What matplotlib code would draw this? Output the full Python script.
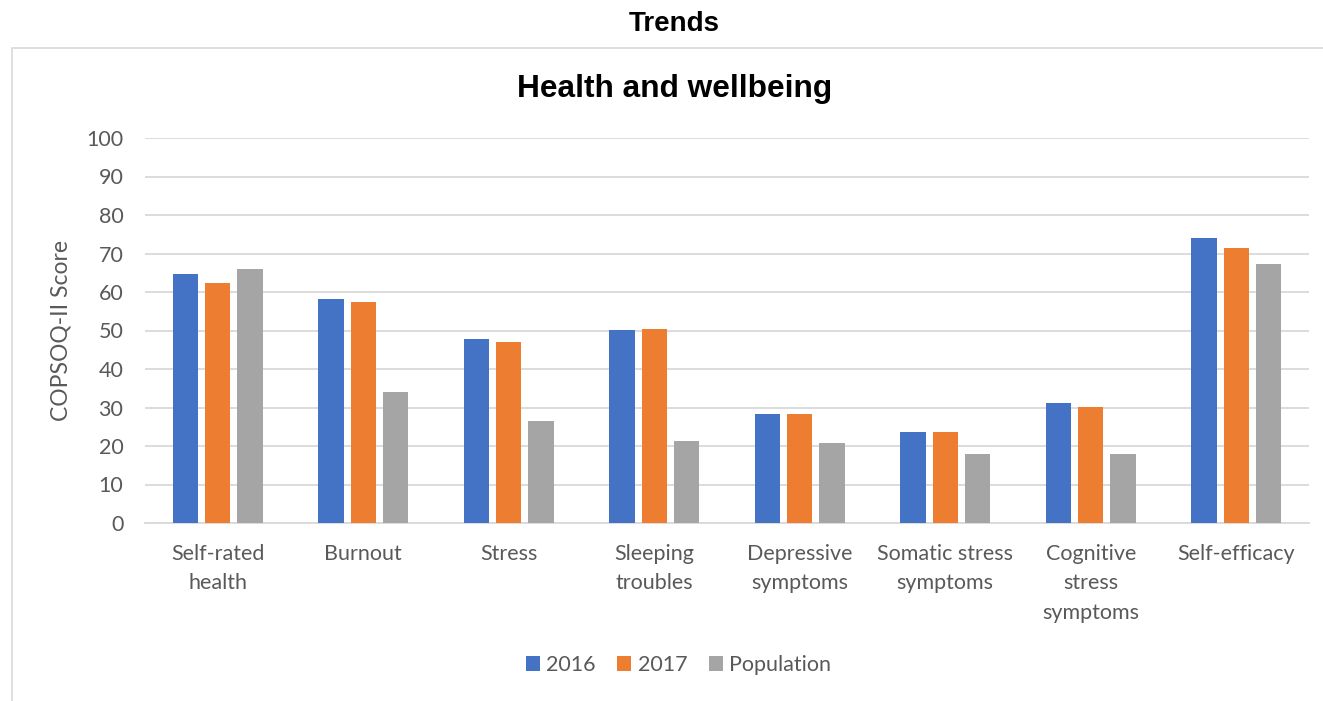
import numpy as np
import matplotlib
matplotlib.use('Agg')
import matplotlib.pyplot as plt
from matplotlib.patches import Rectangle

categories = ['Self-rated\nhealth', 'Burnout', 'Stress', 'Sleeping\ntroubles',
              'Depressive\nsymptoms', 'Somatic stress\nsymptoms',
              'Cognitive\nstress\nsymptoms', 'Self-efficacy']
vals_2016 = [64.6, 58.1, 47.7, 50.2, 28.4, 23.7, 31.1, 73.9]
vals_2017 = [62.4, 57.4, 47.0, 50.4, 28.4, 23.7, 30.2, 71.4]
vals_pop = [65.9, 34.1, 26.6, 21.3, 20.9, 17.8, 17.8, 67.4]
series_names = ['2016', '2017', 'Population']
colors = ['#4472C4', '#ED7D31', '#A5A5A5']

txt_font = ['Lato', 'DejaVu Sans']
grey_txt = '#595959'

fig = plt.figure(figsize=(13.23, 7.01), dpi=100)
fig.set_facecolor('white')
ax = fig.add_axes([145 / 1323, 1 - 523 / 701, 1164 / 1323, 385 / 701])

# chart area border (only top and left visible in the crop)
fig.patches.append(Rectangle((12 / 1323, -0.1), 1.2, 1 - 48 / 701 + 0.1,
                             transform=fig.transFigure, fill=False,
                             edgecolor='#d9d9d9', lw=1.2, zorder=0))

x = np.arange(len(categories))
w = 0.175
step = 0.222
for i, (vals, name, c) in enumerate(zip([vals_2016, vals_2017, vals_pop], series_names, colors)):
    ax.bar(x + (i - 1) * step, vals, width=w, color=c, label=name, zorder=3)

ax.set_xlim(-0.5, len(categories) - 0.5)
ax.set_ylim(0, 100)
ax.set_yticks(np.arange(0, 101, 10))
ax.yaxis.grid(True, color='#d9d9d9', lw=1.3, zorder=0)
ax.set_axisbelow(True)
for s in ['top', 'right', 'left']:
    ax.spines[s].set_visible(False)
ax.spines['bottom'].set_color('#d9d9d9')
ax.spines['bottom'].set_linewidth(1.3)
ax.tick_params(axis='both', length=0, labelsize=15.5, labelcolor=grey_txt)
ax.tick_params(axis='x', pad=15)
ax.tick_params(axis='y', pad=15.5)
ax.set_xticks(x)
ax.set_xticklabels(categories, family=txt_font, linespacing=1.6)
for lab in ax.get_yticklabels():
    lab.set_family(txt_font)

ax.set_ylabel('COPSOQ-II Score', fontsize=16.5, color=grey_txt, family=txt_font)
ax.yaxis.set_label_coords(-0.0635, 0.5)

fig.text(0.51, 1 - 24 / 701, 'Trends', ha='center', va='center',
         fontsize=20, fontweight='bold', family='Liberation Sans')
fig.text(0.51, 1 - 89 / 701, 'Health and wellbeing', ha='center', va='center',
         fontsize=22.8, fontweight='bold', family='Liberation Sans')

leg = fig.legend(loc='center', bbox_to_anchor=(0.513, 1 - 665 / 701), ncol=3,
                 frameon=False, handlelength=0.65, handleheight=0.65,
                 handletextpad=0.3, columnspacing=1.0,
                 prop={'family': txt_font, 'size': 15.5})
for t in leg.get_texts():
    t.set_color(grey_txt)

fig.savefig('out.png', dpi=100)
